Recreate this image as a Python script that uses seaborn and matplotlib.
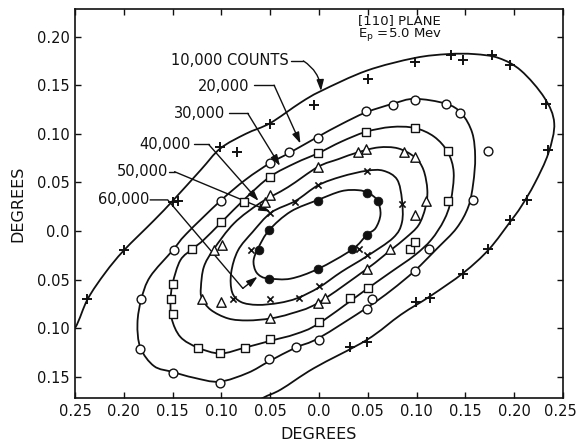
import numpy as np
import matplotlib
matplotlib.use("Agg")
import matplotlib.pyplot as plt
from matplotlib.path import Path
from matplotlib.patches import PathPatch
from matplotlib.transforms import ScaledTranslation
import seaborn as sns

# ---------------------------------------------------------------
# Measured counts, angular positions in degrees (x, y)
# ---------------------------------------------------------------
level_labels = ["10,000 COUNTS", "20,000", "30,000", "40,000", "50,000", "60,000"]

pts_10000_x = [-0.238, -0.200, -0.150, -0.144, -0.101, -0.084, -0.050, -0.005, 0.050, 0.098,
               0.135, 0.148, 0.177, 0.196, 0.233, 0.235, 0.213, 0.196, 0.173, 0.148,
               0.114, 0.099, 0.049, 0.032]
pts_10000_y = [-0.070, -0.020, 0.030, 0.031, 0.086, 0.081, 0.110, 0.130, 0.156, 0.174,
               0.181, 0.176, 0.181, 0.171, 0.131, 0.083, 0.032, 0.011, -0.019, -0.044,
               -0.069, -0.073, -0.114, -0.119]

pts_20000_x = [-0.182, -0.183, -0.150, -0.149, -0.101, -0.100, -0.051, -0.050, -0.031, -0.024,
               -0.001, 0.000, 0.048, 0.049, 0.054, 0.076, 0.098, 0.098, 0.113, 0.130,
               0.144, 0.158, 0.173]
pts_20000_y = [-0.070, -0.121, -0.146, -0.020, -0.156, 0.031, -0.132, 0.070, 0.081, -0.119,
               0.096, -0.112, 0.123, -0.080, -0.070, 0.130, 0.135, -0.041, -0.019, 0.131,
               0.121, 0.032, 0.082]

pts_30000_x = [-0.152, -0.150, -0.150, -0.130, -0.124, -0.101, -0.100, -0.077, -0.076, -0.050,
               -0.050, -0.001, 0.000, 0.032, 0.048, 0.050, 0.093, 0.098, 0.098, 0.132, 0.132]
pts_30000_y = [-0.070, -0.055, -0.085, -0.018, -0.120, -0.125, 0.009, 0.030, -0.120, 0.056,
               -0.111, 0.080, -0.094, -0.069, 0.102, -0.059, -0.019, -0.011, 0.106, 0.082, 0.031]

pts_40000_x = [-0.120, -0.108, -0.100, -0.099, -0.055, -0.050, -0.001, 0.040, 0.048, 0.087,
               0.098, 0.110, 0.098, 0.073, 0.049, 0.006, -0.001, -0.050]
pts_40000_y = [-0.070, -0.020, -0.073, -0.014, 0.030, 0.037, 0.066, 0.081, 0.084, 0.081,
               0.076, 0.031, 0.016, -0.019, -0.039, -0.069, -0.074, -0.090]

pts_50000_x = [-0.088, -0.070, -0.050, -0.025, -0.001, 0.049, 0.085, 0.041, 0.049, 0.000,
               -0.021, -0.050]
pts_50000_y = [-0.070, -0.020, 0.019, 0.030, 0.047, 0.062, 0.028, -0.019, -0.025, -0.057,
               -0.069, -0.070]

pts_60000_x = [-0.061, -0.051, -0.051, -0.001, 0.049, 0.060, 0.049, 0.034, -0.001]
pts_60000_y = [-0.020, 0.001, -0.049, 0.031, 0.039, 0.031, -0.004, -0.019, -0.039]

# ---------------------------------------------------------------
# Hand-faired iso-count contours (vertices in degrees)
# ---------------------------------------------------------------
curve_10000_x = [-0.270, -0.250, -0.237, -0.219, -0.200, -0.169, -0.149, -0.121, -0.101, -0.075,
                 -0.050, -0.019, 0.002, 0.049, 0.098, 0.132, 0.159, 0.184, 0.207, 0.231,
                 0.241, 0.235, 0.221, 0.207, 0.197, 0.174, 0.148, 0.114, 0.084, 0.049,
                 -0.005, -0.039, -0.058, -0.085]
curve_10000_y = [-0.128, -0.100, -0.070, -0.043, -0.020, 0.011, 0.032, 0.063, 0.085, 0.100,
                 0.111, 0.132, 0.144, 0.165, 0.178, 0.182, 0.182, 0.178, 0.165, 0.137,
                 0.111, 0.080, 0.049, 0.025, 0.011, -0.019, -0.043, -0.067, -0.086, -0.112,
                 -0.141, -0.163, -0.172, -0.188]

curve_20000_x = [-0.001, 0.023, 0.048, 0.076, 0.098, 0.130, 0.146, 0.157, 0.160, 0.158,
                 0.153, 0.141, 0.121, 0.098, 0.074, 0.049, 0.000, -0.024, -0.051, -0.073,
                 -0.102, -0.128, -0.150, -0.169, -0.183, -0.186, -0.182, -0.173, -0.150, -0.136,
                 -0.101, -0.075, -0.050, -0.031]
curve_20000_y = [0.097, 0.110, 0.122, 0.131, 0.136, 0.131, 0.121, 0.101, 0.076, 0.049,
                 0.025, 0.003, -0.018, -0.041, -0.061, -0.079, -0.110, -0.120, -0.134, -0.146,
                 -0.155, -0.151, -0.145, -0.139, -0.120, -0.095, -0.070, -0.047, -0.020, -0.003,
                 0.031, 0.053, 0.070, 0.080]

curve_30000_x = [-0.001, 0.023, 0.048, 0.074, 0.098, 0.118, 0.132, 0.138, 0.135, 0.128,
                 0.115, 0.098, 0.074, 0.050, 0.000, -0.024, -0.050, -0.076, -0.101, -0.124,
                 -0.142, -0.151, -0.152, -0.150, -0.142, -0.129, -0.118, -0.100, -0.075, -0.050,
                 -0.024]
curve_30000_y = [0.080, 0.092, 0.102, 0.107, 0.106, 0.097, 0.081, 0.060, 0.031, 0.011,
                 -0.009, -0.025, -0.042, -0.059, -0.095, -0.106, -0.113, -0.120, -0.126, -0.120,
                 -0.109, -0.090, -0.071, -0.054, -0.030, -0.018, -0.009, 0.009, 0.034, 0.056,
                 0.070]

curve_40000_x = [-0.001, 0.020, 0.040, 0.061, 0.081, 0.098, 0.107, 0.111, 0.109, 0.102,
                 0.089, 0.073, 0.049, -0.001, -0.029, -0.050, -0.073, -0.093, -0.111, -0.120,
                 -0.121, -0.118, -0.108, -0.087, -0.060, -0.032]
curve_40000_y = [0.066, 0.074, 0.081, 0.086, 0.085, 0.076, 0.063, 0.042, 0.024, 0.006,
                 -0.007, -0.020, -0.039, -0.074, -0.085, -0.090, -0.092, -0.090, -0.081, -0.069,
                 -0.058, -0.037, -0.019, 0.008, 0.029, 0.045]

curve_50000_x = [-0.001, 0.023, 0.049, 0.066, 0.080, 0.085, 0.085, 0.076, 0.049, 0.023,
                 0.000, -0.022, -0.041, -0.063, -0.080, -0.089, -0.090, -0.083, -0.068, -0.049,
                 -0.024]
curve_50000_y = [0.047, 0.056, 0.062, 0.062, 0.053, 0.032, 0.009, -0.007, -0.026, -0.042,
                 -0.058, -0.069, -0.074, -0.076, -0.073, -0.063, -0.043, -0.020, -0.001, 0.019,
                 0.031]

curve_60000_x = [-0.001, 0.023, 0.040, 0.051, 0.060, 0.063, 0.058, 0.049, 0.034, -0.001,
                 -0.029, -0.050, -0.059, -0.065, -0.067, -0.062, -0.051, -0.029]
curve_60000_y = [0.032, 0.041, 0.042, 0.039, 0.031, 0.017, 0.003, -0.004, -0.019, -0.039,
                 -0.049, -0.049, -0.047, -0.041, -0.030, -0.017, 0.001, 0.020]

# Leader lines for the contour labels: label anchor, elbow points, arrow tip
label_x = [-0.031, -0.071, -0.096, -0.131, -0.155, -0.174]
label_y = [0.175, 0.149, 0.121, 0.089, 0.061, 0.032]
leader_x = [[-0.029, -0.016], [-0.067, -0.046], [-0.092, -0.073], [-0.128, -0.113],
            [-0.154, -0.148], [-0.173, -0.155, -0.078]]
leader_y = [[0.175, 0.175], [0.150, 0.150], [0.121, 0.121], [0.089, 0.089],
            [0.061, 0.061], [0.032, 0.032, -0.059]]
tip_x = [0.002, -0.019, -0.040, -0.062, -0.050, -0.063]
tip_y = [0.144, 0.090, 0.067, 0.031, 0.020, -0.047]

x_ticks = [-0.25, -0.20, -0.15, -0.10, -0.05, 0.0, 0.05, 0.10, 0.15, 0.20, 0.25]
x_tick_labels = ["0.25", "0.20", "0.15", "0.10", "0.05", "0.0", "0.05", "0.10", "0.15", "0.20", "0.25"]
y_ticks = [-0.15, -0.10, -0.05, 0.0, 0.05, 0.10, 0.15, 0.20]
y_tick_labels = ["0.15", "0.10", "0.05", "0.0", "0.05", "0.10", "0.15", "0.20"]


def faired_path(xs, ys, closed=True):
    """Smooth Catmull-Rom curve through the vertices, as cubic Bezier segments."""
    P = np.column_stack([xs, ys]).astype(float)
    n = len(P)
    if closed:
        get = lambda i: P[i % n]
        segments = range(n)
    else:
        get = lambda i: P[min(max(i, 0), n - 1)]
        segments = range(n - 1)
    verts = [P[0]]
    codes = [Path.MOVETO]
    for i in segments:
        p0, p1, p2, p3 = get(i - 1), get(i), get(i + 1), get(i + 2)
        verts += [p1 + (p2 - p0) / 6.0, p2 - (p3 - p1) / 6.0, p2]
        codes += [Path.CURVE4] * 3
    return Path(np.array(verts), codes)


sns.set_style("ticks")
plt.rcParams["font.family"] = ["DejaVu Sans"]

fig = plt.figure(figsize=(5.78, 4.43), dpi=100)
ax = fig.add_axes([75 / 578, 45 / 443, 488 / 578, 389 / 443])

ink = "#111111"

curves = [
    (curve_10000_x, curve_10000_y, False),
    (curve_20000_x, curve_20000_y, True),
    (curve_30000_x, curve_30000_y, True),
    (curve_40000_x, curve_40000_y, True),
    (curve_50000_x, curve_50000_y, True),
    (curve_60000_x, curve_60000_y, True),
]
for cx, cy, closed in curves:
    ax.add_patch(PathPatch(faired_path(cx, cy, closed), facecolor="none",
                           edgecolor=ink, linewidth=1.3, zorder=2))

marker_sets = [
    (pts_10000_x, pts_10000_y, dict(marker="+", s=45, color=ink, linewidth=1.4)),
    (pts_20000_x, pts_20000_y, dict(marker="o", s=40, color="white", edgecolor=ink, linewidth=1.0)),
    (pts_30000_x, pts_30000_y, dict(marker="s", s=36, color="white", edgecolor=ink, linewidth=1.0)),
    (pts_40000_x, pts_40000_y, dict(marker="^", s=46, color="white", edgecolor=ink, linewidth=1.0)),
    (pts_50000_x, pts_50000_y, dict(marker="x", s=20, color=ink, linewidth=1.2)),
    (pts_60000_x, pts_60000_y, dict(marker="o", s=40, color=ink, edgecolor=ink, linewidth=0.5)),
]
for mx, my, style in marker_sets:
    sns.scatterplot(x=mx, y=my, ax=ax, zorder=3, legend=False, **style)

# contour labels with leader arrows
for k, text in enumerate(level_labels):
    ax.text(label_x[k], label_y[k], text, ha="right", va="center", fontsize=10.5, color=ink)
    ax.plot(leader_x[k], leader_y[k], color=ink, linewidth=1.0, zorder=2)
    rad = -0.25 if k == 0 else 0.0
    ax.annotate("", xy=(tip_x[k], tip_y[k]), xytext=(leader_x[k][-1], leader_y[k][-1]),
                arrowprops=dict(arrowstyle="-|>,head_length=0.55,head_width=0.18",
                                mutation_scale=12, color=ink, linewidth=1.0,
                                shrinkA=0, shrinkB=0,
                                connectionstyle=f"arc3,rad={rad}"),
                zorder=2)

ax.text(0.040, 0.2165, "[110] PLANE", ha="left", va="center", fontsize=9.5, color=ink)
ax.text(0.040, 0.2020, r"E$_\mathregular{p}$ =5.0 Mev", ha="left", va="center",
        fontsize=9.5, color=ink)

ax.set_xlim(-0.25, 0.25)
ax.set_ylim(-0.1718, 0.2284)
ax.set_xticks(x_ticks)
ax.set_xticklabels(x_tick_labels)
ax.set_yticks(y_ticks)
ax.set_yticklabels(y_tick_labels)
ax.tick_params(direction="in", length=4, width=1.0, top=True, right=True,
               labeltop=False, labelright=False, labelsize=10.5, pad=4, colors=ink)
for side in ax.spines.values():
    side.set_visible(True)
    side.set_linewidth(1.2)
    side.set_color(ink)

# keep the rightmost x tick label inside the canvas
last_label = ax.get_xticklabels()[-1]
last_label.set_transform(last_label.get_transform()
                         + ScaledTranslation(-3 / 100, 0, fig.dpi_scale_trans))

ax.set_xlabel("DEGREES", fontsize=11.5, color=ink, labelpad=6)
ax.set_ylabel("DEGREES", fontsize=11.5, color=ink, labelpad=8)

fig.savefig("out.png", dpi=100, facecolor="white")
